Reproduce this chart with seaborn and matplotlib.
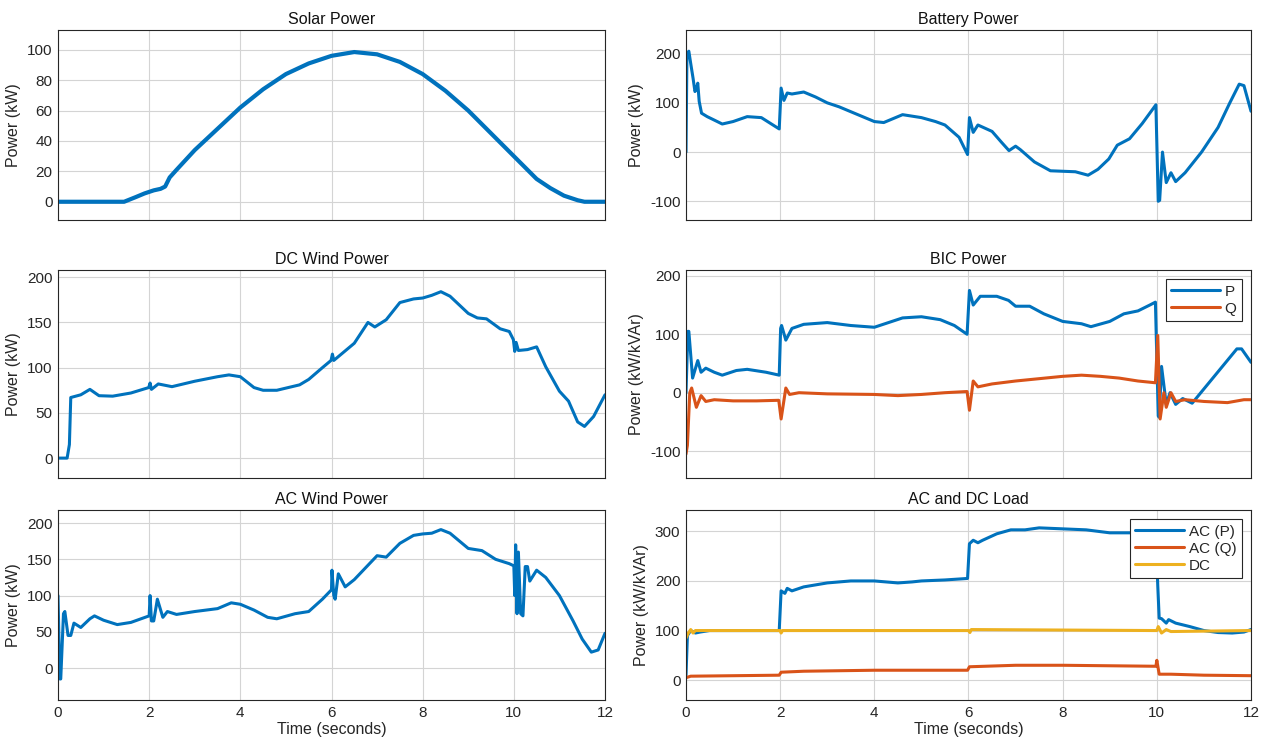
import matplotlib
matplotlib.use("Agg")
import matplotlib.pyplot as plt
import seaborn as sns
import pandas as pd

# ---------------- data ----------------
solar_t = [0, 1.0, 1.45, 1.7, 1.9, 2.1, 2.25, 2.35, 2.45, 2.6, 3.0, 3.5, 4.0, 4.5, 5.0, 5.5,
           6.0, 6.5, 7.0, 7.5, 8.0, 8.5, 9.0, 9.5, 10.0, 10.5, 10.8, 11.1, 11.4, 11.55, 12.0]
solar_p = [0, 0, 0, 3, 5.5, 7.5, 8.5, 10, 16, 21, 34, 48, 62, 74, 84, 91,
           96, 98.5, 97, 92, 84, 73, 60, 45, 30, 15, 9, 4, 1, 0, 0]

bat_t = [0, 0.02, 0.06, 0.1, 0.15, 0.19, 0.22, 0.25, 0.28, 0.33, 0.45, 0.6, 0.77, 1.0, 1.3,
         1.6, 1.98, 2.02, 2.08, 2.15, 2.25, 2.5, 2.75, 3.0, 3.25, 3.5, 3.75, 4.0, 4.2, 4.6, 5.0, 5.3, 5.5, 5.8,
         5.98, 6.02, 6.1, 6.2, 6.5, 6.7, 6.86, 7.0, 7.1, 7.4, 7.74, 8.27, 8.54, 8.75, 8.98,
         9.16, 9.42, 9.69, 9.98, 10.03, 10.06, 10.12, 10.2, 10.3, 10.4, 10.6, 10.95, 11.3,
         11.55, 11.75, 11.85, 12.0]
bat_p = [0, 200, 205, 180, 150, 123, 128, 140, 103, 79, 72, 65, 57, 62, 72,
         70, 47, 130, 105, 120, 118, 122, 112, 100, 92, 82, 72, 62, 60, 76, 70, 62, 55, 30,
         -5, 70, 40, 55, 42, 20, 3, 12, 5, -20, -38, -40, -47, -35, -14,
         14, 27, 58, 96, -100, -98, 0, -62, -42, -60, -42, 0, 50,
         100, 138, 135, 83]

dcw_t = [0, 0.2, 0.25, 0.28, 0.5, 0.7, 0.9, 1.2, 1.6, 1.99, 2.02, 2.05, 2.2, 2.5, 3.0, 3.5,
         3.75, 4.0, 4.3, 4.5, 4.8, 5.3, 5.5, 5.8, 5.99, 6.02, 6.05, 6.5, 6.8, 6.95, 7.2, 7.5,
         7.8, 8.0, 8.2, 8.4, 8.6, 9.0, 9.2, 9.4, 9.7, 9.9, 9.99, 10.02, 10.05, 10.1, 10.3,
         10.5, 10.7, 11.0, 11.2, 11.4, 11.55, 11.75, 12.0]
dcw_p = [0, 0, 15, 67, 70, 76, 69, 68.5, 72, 78, 83, 76, 82, 79, 85, 90,
         92, 90, 78, 75, 75, 81, 87, 100, 108, 115, 108, 127, 150, 145, 153, 172,
         176, 177, 180, 184, 179, 160, 155, 154, 143, 140, 131, 118, 128, 119, 120,
         123, 101, 74, 63, 40, 35, 46, 70]

bicp_t = [0, 0.04, 0.06, 0.14, 0.25, 0.32, 0.42, 0.6, 0.77, 1.07, 1.3, 1.7, 1.98, 2.01,
          2.03, 2.12, 2.25, 2.5, 3.0, 3.5, 4.0, 4.3, 4.6, 5.0, 5.4, 5.7, 5.97, 6.02, 6.1,
          6.25, 6.6, 6.85, 7.0, 7.3, 7.6, 8.0, 8.4, 8.6, 9.0, 9.3, 9.6, 9.85, 9.97, 10.03,
          10.05, 10.1, 10.2, 10.28, 10.4, 10.55, 10.75, 11.7, 11.8, 12.0]
bicp_p = [0, 105, 105, 25, 55, 35, 42, 35, 30, 38, 40, 35, 30, 110,
          115, 90, 110, 117, 120, 115, 112, 120, 128, 130, 125, 115, 100, 175, 150,
          165, 165, 158, 148, 148, 135, 122, 118, 113, 122, 135, 140, 150, 155, -40,
          -42, 45, -20, 0, -20, -10, -18, 75, 75, 52]

bicq_t = [0, 0.03, 0.08, 0.12, 0.22, 0.32, 0.42, 0.6, 1.0, 1.5, 1.97, 2.02, 2.12, 2.2, 2.4,
          3.0, 4.0, 4.5, 5.0, 5.5, 5.97, 6.02, 6.1, 6.2, 6.5, 7.0, 7.5, 8.0, 8.4, 8.8, 9.2,
          9.6, 9.97, 10.02, 10.07, 10.15, 10.2, 10.3, 10.4, 10.6, 11.0, 11.5, 11.85, 12.0]
bicq_p = [-105, -90, 0, 8, -25, -5, -15, -12, -14, -14, -13, -45, 8, -3, 0,
          -2, -3, -5, -3, 0, 2, -30, 20, 10, 15, 20, 24, 28, 30, 28, 25,
          20, 17, 98, -45, 0, -25, 0, -15, -12, -15, -17, -12, -12]

acw_t = [0, 0.04, 0.06, 0.12, 0.15, 0.22, 0.28, 0.35, 0.5, 0.7, 0.8, 1.0, 1.3, 1.6, 2.0,
         2.02, 2.05, 2.1, 2.18, 2.3, 2.4, 2.6, 3.0, 3.5, 3.8, 4.0, 4.3, 4.6, 4.8, 5.2, 5.5,
         5.8, 6.0, 6.01, 6.05, 6.08, 6.15, 6.3, 6.5, 7.0, 7.2, 7.5, 7.8, 8.0, 8.2, 8.4,
         8.6, 9.0, 9.3, 9.6, 9.9, 10.0, 10.02, 10.04, 10.07, 10.1, 10.15, 10.2, 10.25,
         10.3, 10.35, 10.5, 10.7, 11.0, 11.3, 11.5, 11.7, 11.85, 12.0]
acw_p = [100, -15, -15, 75, 78, 45, 45, 62, 56, 68, 72, 66, 60, 63, 72,
         100, 65, 65, 95, 70, 78, 74, 78, 82, 90, 88, 80, 70, 68, 75, 78,
         95, 108, 135, 100, 95, 130, 112, 122, 155, 153, 172, 183, 185, 186, 191,
         186, 165, 162, 150, 144, 141, 100, 170, 75, 160, 75, 72, 140,
         140, 120, 135, 125, 100, 65, 40, 22, 25, 48]

acp_t = [0, 0.03, 0.1, 0.2, 0.3, 0.5, 1.0, 1.98, 2.02, 2.1, 2.15, 2.25, 2.5, 3.0, 3.5, 4.0,
         4.5, 4.8, 5.0, 5.5, 5.98, 6.02, 6.1, 6.2, 6.3, 6.6, 6.9, 7.2, 7.5, 8.0, 8.5, 9.0,
         9.5, 9.98, 10.02, 10.05, 10.1, 10.2, 10.25, 10.4, 10.7, 11.0, 11.3, 11.6, 11.85, 12.0]
acp_p = [10, 90, 100, 95, 97, 100, 100, 100, 180, 175, 185, 180, 188, 196, 200, 200,
         196, 198, 200, 202, 205, 275, 282, 277, 282, 295, 303, 303, 307, 305, 303, 297,
         297, 295, 190, 125, 124, 115, 122, 115, 108, 100, 96, 95, 97, 102]

acq_t = [0, 0.1, 1.98, 2.02, 2.5, 4.0, 5.98, 6.02, 7.0, 8.0, 9.0, 9.98, 10.0, 10.05, 10.3, 11.0, 12.0]
acq_p = [5, 8, 10, 16, 18, 20, 20, 27, 30, 30, 29, 28, 40, 12, 12, 10, 9]

dc_t = [0, 0.05, 0.1, 0.15, 0.2, 2.0, 2.02, 2.05, 6.0, 6.03, 6.06, 10.0, 10.03, 10.1, 10.2, 10.3, 12.0]
dc_p = [85, 95, 102, 95, 100, 100, 95, 100, 100, 96, 102, 100, 108, 95, 102, 98, 100]

xticks = [0, 2, 4, 6, 8, 10, 12]
titles = ["Solar Power", "Battery Power", "DC Wind Power", "BIC Power", "AC Wind Power", "AC and DC Load"]

# ---------------- style ----------------
sns.set_theme(style="whitegrid")
plt.rcParams["font.family"] = ["Liberation Sans", "DejaVu Sans"]
plt.rcParams["axes.unicode_minus"] = False
plt.rcParams["axes.edgecolor"] = "#262626"
plt.rcParams["axes.linewidth"] = 0.8

C1, C2, C3 = "#0072BD", "#D95319", "#EDB120"

fig = plt.figure(figsize=(12.71, 7.40), dpi=100)
W, H = 1271, 740

def pos(x0, x1, y0, y1):
    return [x0 / W, 1 - y1 / H, (x1 - x0) / W, (y1 - y0) / H]

lx0, lx1 = 58, 605
rx0, rx1 = 686, 1251
rows = [(30, 220), (270, 478), (510, 700)]

axes = []
for r, (yt, yb) in enumerate(rows):
    axes.append(fig.add_axes(pos(lx0, lx1, yt, yb)))
    axes.append(fig.add_axes(pos(rx0, rx1, yt, yb)))

def draw(ax, t, p, color, label=None, lw=2.2):
    df = pd.DataFrame({"t": t, "p": p})
    sns.lineplot(data=df, x="t", y="p", ax=ax, color=color, linewidth=lw,
                 estimator=None, sort=False, label=label, legend=False)

draw(axes[0], solar_t, solar_p, C1, lw=3.0)
draw(axes[1], bat_t, bat_p, C1)
draw(axes[2], dcw_t, dcw_p, C1)
draw(axes[3], bicp_t, bicp_p, C1, label="P")
draw(axes[3], bicq_t, bicq_p, C2, label="Q")
draw(axes[4], acw_t, acw_p, C1)
draw(axes[5], acp_t, acp_p, C1, label="AC (P)")
draw(axes[5], acq_t, acq_p, C2, label="AC (Q)")
draw(axes[5], dc_t, dc_p, C3, label="DC")

ylims = [(-12, 113), (-138, 248), (-22, 208), (-146, 210), (-44, 218), (-40, 343)]
yticks = [[0, 20, 40, 60, 80, 100], [-100, 0, 100, 200], [0, 50, 100, 150, 200],
          [-100, 0, 100, 200], [0, 50, 100, 150, 200], [0, 100, 200, 300]]
ylabels = ["Power (kW)", "Power (kW)", "Power (kW)", "Power (kW/kVAr)", "Power (kW)", "Power (kW/kVAr)"]

for i, ax in enumerate(axes):
    ax.set_xlim(0, 12)
    ax.set_ylim(*ylims[i])
    ax.set_xticks(xticks)
    ax.set_yticks(yticks[i])
    ax.set_title(titles[i], fontsize=11.5, pad=4, color="#111111")
    ax.set_ylabel(ylabels[i], fontsize=11.5, color="#262626", labelpad=4)
    ax.grid(True, color="#d4d4d4", linewidth=0.8)
    ax.tick_params(axis="both", labelsize=11, colors="#262626", direction="in",
                   length=3, width=0.6, pad=4)
    for s in ax.spines.values():
        s.set_visible(True)
        s.set_color("#262626")
        s.set_linewidth(0.8)
    if i < 4:
        ax.set_xticklabels([])
        ax.set_xlabel("")
    else:
        ax.set_xticklabels([str(v) for v in xticks])
        ax.set_xlabel("Time (seconds)", fontsize=11.5, color="#262626", labelpad=2)

for ax in (axes[3], axes[5]):
    leg = ax.legend(loc="upper right", fontsize=11, frameon=True, fancybox=False,
                    framealpha=1, edgecolor="#262626", handlelength=3.2,
                    borderaxespad=0.6, labelspacing=0.2, handletextpad=0.3,
                    borderpad=0.35)
    leg.get_frame().set_linewidth(0.8)

fig.savefig("out.png", dpi=100)
